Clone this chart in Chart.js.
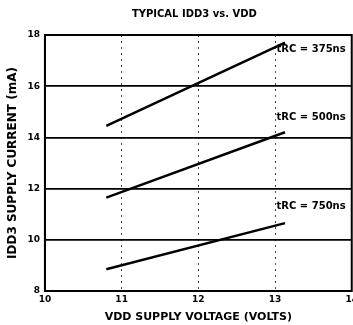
<!DOCTYPE html>
<html>
<head>
<meta charset="utf-8">
<script src="https://cdn.jsdelivr.net/npm/chart.js@4"></script>
<style>
  html, body { margin: 0; padding: 0; background: #fff; overflow: hidden; }
  #wrap { width: 362px; height: 325px; }
</style>
</head>
<body>
<div id="wrap"><canvas id="chart"></canvas></div>
<script>
// VDD (volts) vs IDD3 (mA)
const vdd = [10.8, 13.13];
const idd375 = [14.45, 17.7];
const idd500 = [11.65, 14.2];
const idd750 = [8.85, 10.65];
const seriesNames = ['tRC = 375ns', 'tRC = 500ns', 'tRC = 750ns'];
const labelX = [13.02, 13.02, 13.02];
const labelY = [17.45, 14.8, 11.3];
const xTicks = [10, 11, 12, 13, 14];
const yTicks = [8, 10, 12, 14, 16, 18];
const chartTitle = 'TYPICAL IDD3 vs. VDD';

const FAMILY = 'DejaVu Sans';

function pts(ys) {
  return vdd.map((x, i) => ({ x: x, y: ys[i] }));
}

// curve labels + title centred over the plot
const texts = {
  id: 'texts',
  afterDatasetsDraw(chart) {
    const ctx = chart.ctx;
    const xs = chart.scales.x, ys = chart.scales.y;
    const a = chart.chartArea;
    ctx.save();
    ctx.fillStyle = '#000';
    ctx.font = 'bold 10px "' + FAMILY + '"';
    ctx.textBaseline = 'middle';
    seriesNames.forEach((name, i) => {
      ctx.fillText(name, xs.getPixelForValue(labelX[i]), ys.getPixelForValue(labelY[i]));
    });
    ctx.textAlign = 'center';
    ctx.fillText(chartTitle, (a.left + a.right) / 2 - 4, 14);
    ctx.restore();
  }
};

const frame = {
  id: 'frame',
  afterDraw(chart) {
    const a = chart.chartArea, c = chart.ctx;
    c.save();
    c.strokeStyle = '#000';
    c.lineWidth = 2;
    c.strokeRect(a.left, a.top, a.right - a.left, a.bottom - a.top);
    c.restore();
  }
};

const ctx = document.getElementById('chart').getContext('2d');
new Chart(ctx, {
  type: 'scatter',
  data: {
    datasets: [idd375, idd500, idd750].map((d, i) => ({
      label: seriesNames[i],
      data: pts(d),
      showLine: true,
      borderColor: '#000',
      borderWidth: 2.5,
      pointRadius: 0,
      tension: 0
    }))
  },
  options: {
    responsive: true,
    maintainAspectRatio: false,
    animation: false,
    layout: { padding: { top: 35, left: 6, right: 0, bottom: 0 } },
    plugins: {
      legend: { display: false },
      tooltip: { enabled: false },
      title: { display: false }
    },
    scales: {
      x: {
        type: 'linear',
        min: 10,
        max: 14,
        afterBuildTicks: s => { s.ticks = xTicks.map(v => ({ value: v })); },
        grid: { color: '#444', lineWidth: 1, drawTicks: false },
        border: { display: true, color: '#000', width: 2, dash: [2, 4] },
        ticks: {
          color: '#000',
          padding: 4,
          maxRotation: 0,
          font: { family: FAMILY, size: 9, weight: 'bold', lineHeight: 1 }
        },
        title: {
          display: true,
          text: 'VDD SUPPLY VOLTAGE (VOLTS)',
          color: '#000',
          font: { family: FAMILY, size: 11, weight: 'bold', lineHeight: 1 },
          padding: { top: 4, bottom: 2 }
        }
      },
      y: {
        type: 'linear',
        min: 8,
        max: 18,
        afterBuildTicks: s => { s.ticks = yTicks.map(v => ({ value: v })); },
        grid: { color: '#000', lineWidth: 1.8, drawTicks: false },
        border: { display: true, color: '#000', width: 2 },
        ticks: {
          color: '#000',
          padding: 5,
          font: { family: FAMILY, size: 9, weight: 'bold' }
        },
        title: {
          display: true,
          text: 'IDD3 SUPPLY CURRENT (mA)',
          color: '#000',
          font: { family: FAMILY, size: 12, weight: 'bold' },
          padding: { top: 0, bottom: 2 }
        }
      }
    }
  },
  plugins: [texts, frame]
});
</script>
</body>
</html>
